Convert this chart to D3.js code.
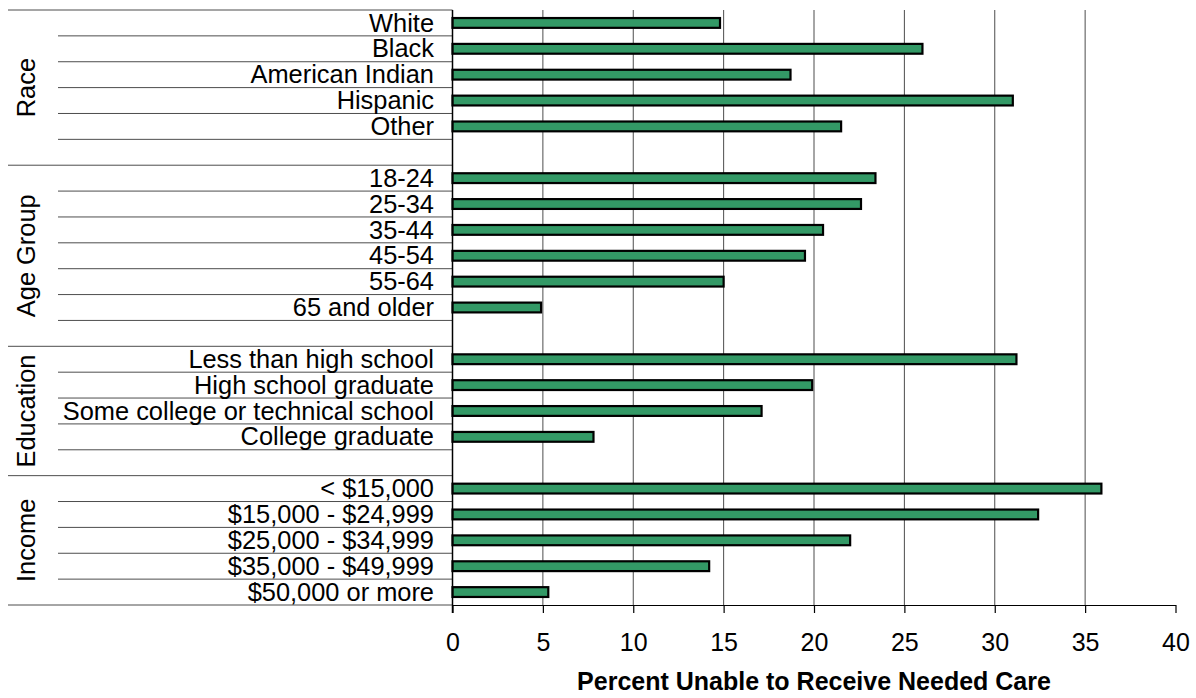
<!DOCTYPE html>
<html>
<head>
<meta charset="utf-8">
<script src="https://cdn.jsdelivr.net/npm/d3@7"></script>
<style>
  html, body { margin: 0; padding: 0; background: #fff; }
  svg { display: block; font-family: "Liberation Sans", Arial, sans-serif; }
</style>
</head>
<body>
<svg id="chart" width="1196" height="698"></svg>
<script>
// ---- data ----
const groupNames = ["Race", "Age Group", "Education", "Income"];
const raceCats = ["White", "Black", "American Indian", "Hispanic", "Other"];
const raceVals = [14.8, 26.0, 18.7, 31.0, 21.5];
const ageCats = ["18-24", "25-34", "35-44", "45-54", "55-64", "65 and older"];
const ageVals = [23.4, 22.6, 20.5, 19.5, 15.0, 4.9];
const eduCats = ["Less than high school", "High school graduate", "Some college or technical school", "College graduate"];
const eduVals = [31.2, 19.9, 17.1, 7.8];
const incCats = ["< $15,000", "$15,000 - $24,999", "$25,000 - $34,999", "$35,000 - $49,999", "$50,000 or more"];
const incVals = [35.9, 32.4, 22.0, 14.2, 5.3];
const xTicks = [0, 5, 10, 15, 20, 25, 30, 35, 40];
const xTitle = "Percent Unable to Receive Needed Care";

// ---- build slot list ----
const groupCats = [raceCats, ageCats, eduCats, incCats];
const groupVals = [raceVals, ageVals, eduVals, incVals];
const slots = [];
const groupsInfo = [];
groupCats.forEach((cats, gi) => {
  const keys = [];
  cats.forEach((c, i) => {
    const key = gi + "|" + c;
    slots.push({ key, label: c, value: groupVals[gi][i], group: gi, spacer: false });
    keys.push(key);
  });
  if (gi < groupCats.length - 1) {
    const key = gi + "|__spacer";
    slots.push({ key, label: "", value: null, group: gi, spacer: true });
    keys.push(key);
  }
  groupsInfo.push({ name: groupNames[gi], keys });
});

// ---- layout ----
const plotLeft = 452.5, plotRight = 1175.5, plotTop = 10, plotBottom = 605;
const x = d3.scaleLinear().domain([0, 40]).range([plotLeft, plotRight]);
const y = d3.scaleBand().domain(slots.map(s => s.key)).range([plotTop, plotBottom]).padding(0);
const bw = y.bandwidth();
const barH = 9.8;

const svg = d3.select("#chart");
const FONT = 25;
const LABEL_FONT = 25.4;
const lineColor = "#4d4d4d";

// gridlines
svg.append("g").selectAll("line")
  .data(xTicks.filter(t => t > 0 && t < 40))
  .join("line")
  .attr("x1", d => x(d)).attr("x2", d => x(d))
  .attr("y1", plotTop).attr("y2", plotBottom)
  .attr("stroke", lineColor).attr("stroke-width", 1);

// row separators (minor)
const minorY = [];
groupsInfo.forEach((g) => {
  g.keys.forEach((k, i) => {
    const s = slots.find(ss => ss.key === k);
    const bottom = y(k) + bw;
    const isLast = i === g.keys.length - 1;
    if (!s.spacer && !isLast) minorY.push(bottom);
  });
});
svg.append("g").selectAll("line")
  .data(minorY).join("line")
  .attr("x1", 58).attr("x2", plotLeft)
  .attr("y1", d => d).attr("y2", d => d)
  .attr("stroke", lineColor).attr("stroke-width", 1);

// section separators
const sectionY = [plotTop].concat(groupsInfo.map(g => y(g.keys[g.keys.length - 1]) + bw));
svg.append("g").selectAll("line")
  .data(sectionY).join("line")
  .attr("x1", 8).attr("x2", plotLeft)
  .attr("y1", d => d).attr("y2", d => d)
  .attr("stroke", lineColor).attr("stroke-width", 1);

// bars
svg.append("g").selectAll("rect")
  .data(slots.filter(s => !s.spacer))
  .join("rect")
  .attr("x", x(0))
  .attr("y", d => y(d.key) + bw / 2 - barH / 2)
  .attr("width", d => x(d.value) - x(0))
  .attr("height", barH)
  .attr("fill", "#339966")
  .attr("stroke", "#000")
  .attr("stroke-width", 2.2);

// category labels
svg.append("g").selectAll("text")
  .data(slots.filter(s => !s.spacer))
  .join("text")
  .attr("x", 434)
  .attr("y", d => y(d.key) + bw / 2)
  .attr("dy", "0.34em")
  .attr("text-anchor", "end")
  .attr("font-size", LABEL_FONT)
  .attr("fill", "#000")
  .text(d => d.label);

// group labels (rotated)
svg.append("g").selectAll("text")
  .data(groupsInfo)
  .join("text")
  .attr("transform", g => {
    const top = y(g.keys[0]);
    const bot = y(g.keys[g.keys.length - 1]) + bw;
    return `translate(35,${(top + bot) / 2}) rotate(-90)`;
  })
  .attr("text-anchor", "middle")
  .attr("font-size", LABEL_FONT)
  .attr("fill", "#000")
  .text(g => g.name);

// x axis
const xAxis = d3.axisBottom(x).tickValues(xTicks).tickSizeInner(8).tickSizeOuter(0).tickFormat(d3.format("d"));
const ax = svg.append("g").attr("transform", `translate(0,${plotBottom})`).call(xAxis);
ax.select(".domain").attr("stroke", "#000").attr("stroke-width", 1.2);
ax.selectAll(".tick line").attr("stroke", "#000").attr("stroke-width", 1.2);
ax.selectAll(".tick text")
  .attr("y", 45.5).attr("dy", null)
  .attr("font-size", FONT)
  .attr("font-family", "Liberation Sans, Arial, sans-serif")
  .attr("fill", "#000");

// y axis line
svg.append("line")
  .attr("x1", plotLeft).attr("x2", plotLeft)
  .attr("y1", plotTop).attr("y2", plotBottom + 8)
  .attr("stroke", "#000").attr("stroke-width", 1.5);

// x title
svg.append("text")
  .attr("x", (plotLeft + plotRight) / 2)
  .attr("y", 690)
  .attr("text-anchor", "middle")
  .attr("font-size", FONT)
  .attr("font-weight", "bold")
  .attr("fill", "#000")
  .text(xTitle);
</script>
</body>
</html>
